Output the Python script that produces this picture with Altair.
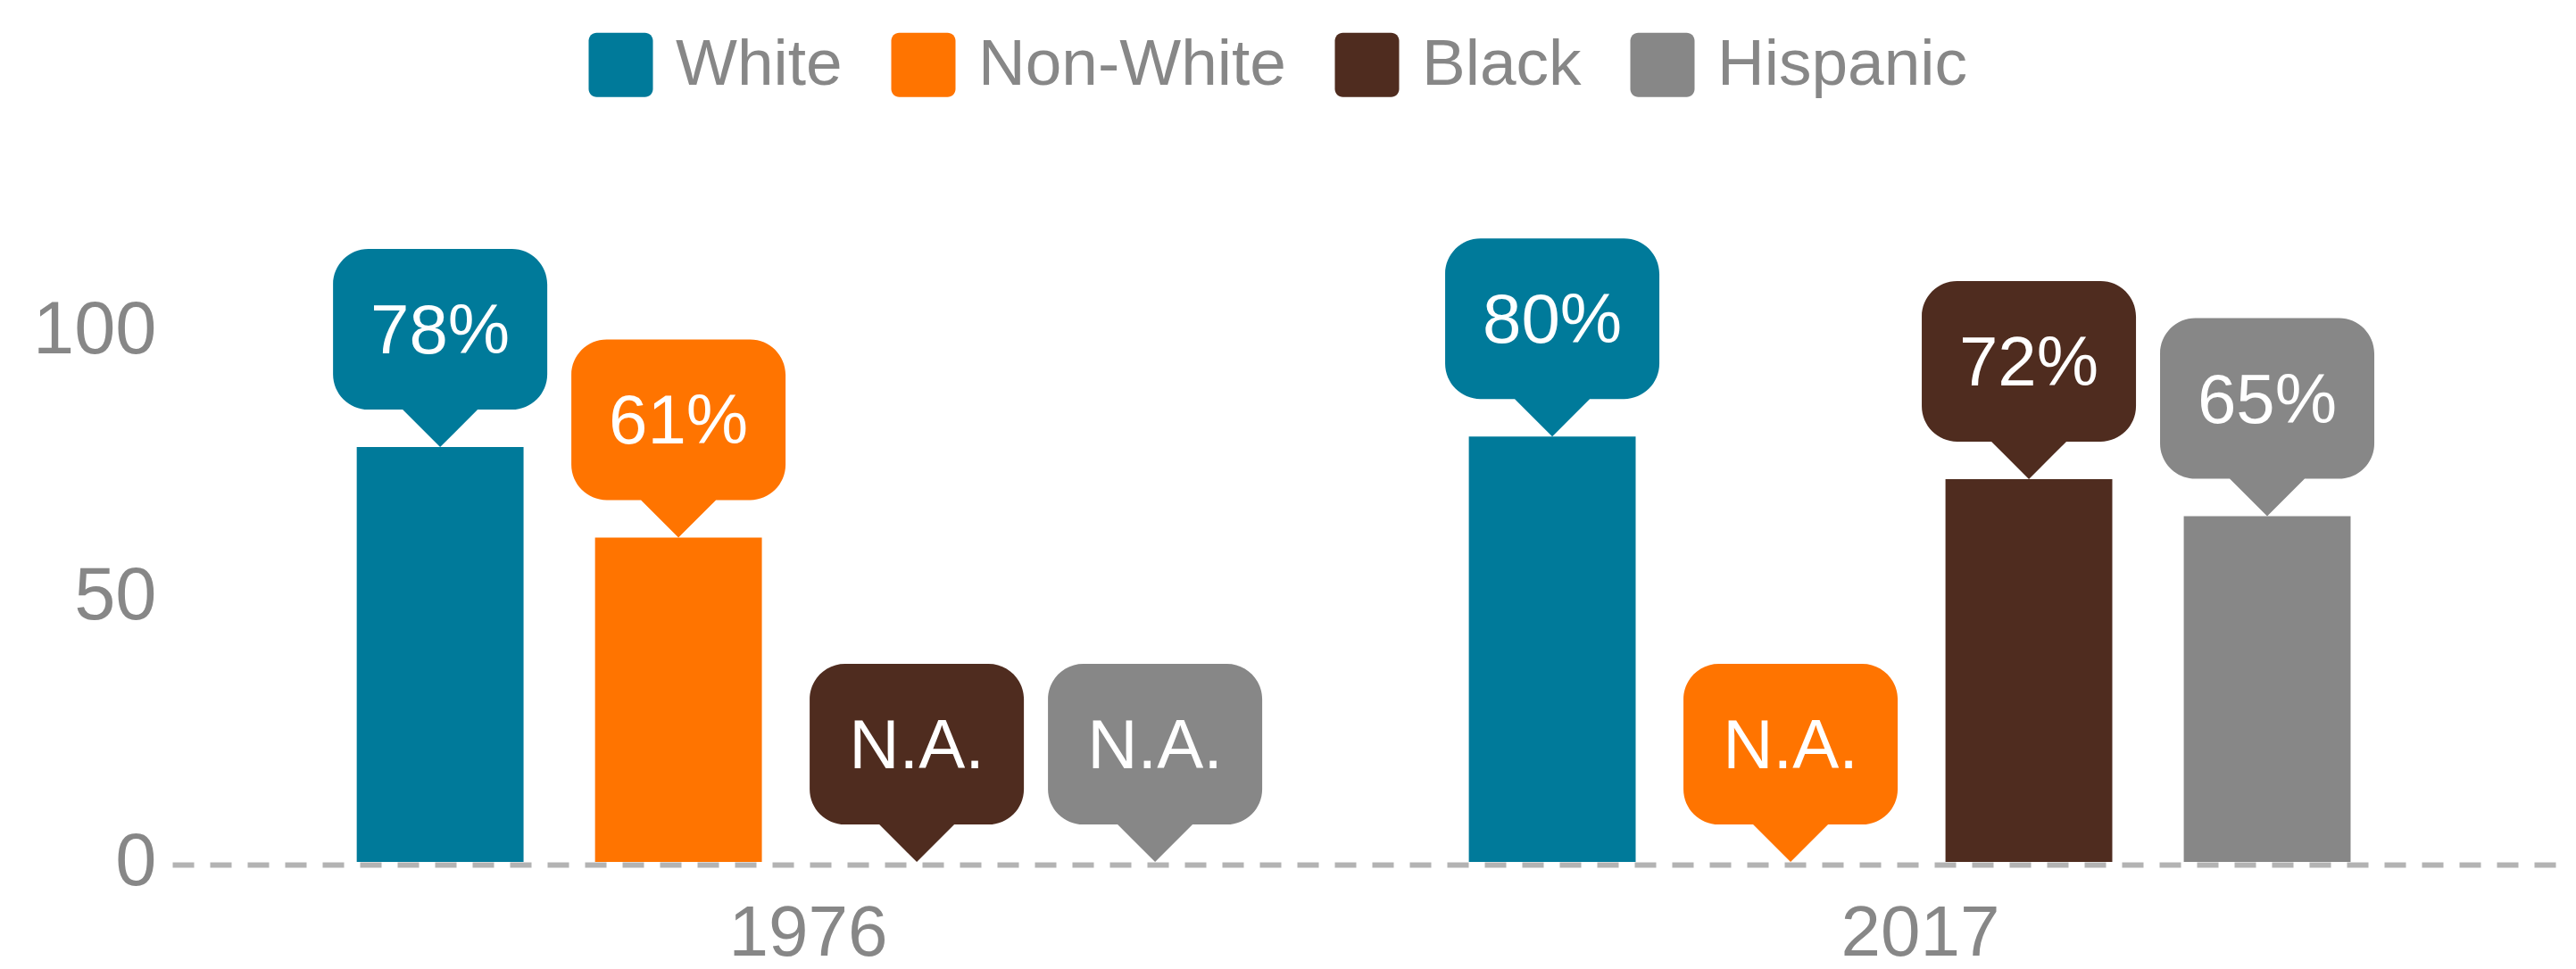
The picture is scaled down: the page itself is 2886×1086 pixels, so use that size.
import altair as alt
import pandas as pd

# ---- data ----
years = ["1976", "2017"]
races = ["White", "Non-White", "Black", "Hispanic"]
values_1976 = [78, 61, None, None]
values_2017 = [80, None, 72, 65]
colors = ["#007A9A", "#FF7400", "#4F2C1F", "#878787"]
y_ticks = [0, 50, 100]

rows = []
for yr, vals in zip(years, [values_1976, values_2017]):
    for r, v in zip(races, vals):
        rows.append({
            "year": yr,
            "race": r,
            "value": v,
            "pos": v if v is not None else 0,
            "label": f"{v}%" if v is not None else "N.A.",
        })
df = pd.DataFrame(rows)

FONT = "Liberation Sans"
GRAY = "#878787"
W, H = 2685, 596

callout = ("M0,0 L-0.35,-0.35 L-0.67,-0.35 C-0.852,-0.35 -1,-0.498 -1,-0.68 "
           "L-1,-1.52 C-1,-1.702 -0.852,-1.85 -0.67,-1.85 L0.67,-1.85 "
           "C0.852,-1.85 1,-1.702 1,-1.52 L1,-0.68 C1,-0.498 0.852,-0.35 0.67,-0.35 "
           "L0.35,-0.35 Z")
rsquare = ("M-1,-0.75 C-1,-0.89 -0.89,-1 -0.75,-1 L0.75,-1 C0.89,-1 1,-0.89 1,-0.75 "
           "L1,0.75 C1,0.89 0.89,1 0.75,1 L-0.75,1 C-0.89,1 -1,0.89 -1,0.75 Z")

x_enc = alt.X("year:N", sort=years, title=None,
              scale=alt.Scale(paddingInner=0, paddingOuter=0.0775, align=0.402),
              axis=alt.Axis(labelFontSize=80, labelColor=GRAY, labelFont=FONT,
                            labelAngle=0, ticks=False, labelPadding=38,
                            labelOffset=12, offset=3, labelLimit=600,
                            domainColor="#B3B3B3", domainWidth=6,
                            domainDash=[24, 18], zindex=1))
xo_enc = alt.XOffset("race:N", sort=races,
                     scale=alt.Scale(paddingInner=0.3, paddingOuter=0.4833))
color_scale = alt.Scale(domain=races, range=colors)

base = alt.Chart(df)

bars = base.transform_filter("datum.value != null").mark_bar().encode(
    x=x_enc,
    xOffset=xo_enc,
    y=alt.Y("value:Q", title=None,
            scale=alt.Scale(domain=[0, 100], nice=False),
            axis=alt.Axis(values=y_ticks, labelFontSize=83, labelColor=GRAY,
                          labelFont=FONT, ticks=False, domain=False, grid=False,
                          labelPadding=18, labelLimit=600)),
    color=alt.Color("race:N", scale=color_scale, sort=races,
                    legend=alt.Legend(title=None, orient="none", direction="horizontal",
                                      columns=4, legendX=466, legendY=-334,
                                      symbolType=rsquare, symbolSize=5184,
                                      symbolStrokeWidth=0, symbolOpacity=1,
                                      labelFontSize=73, labelColor=GRAY,
                                      labelFont=FONT, labelOffset=25,
                                      columnPadding=54, padding=0,
                                      labelLimit=600)),
)

bubbles = base.mark_point(shape=callout, size=57600, filled=True, opacity=1,
                          strokeWidth=0).encode(
    x=alt.X("year:N", sort=years),
    xOffset=alt.XOffset("race:N", sort=races),
    y=alt.Y("pos:Q"),
    color=alt.Color("race:N", scale=color_scale, legend=None),
)

texts = base.mark_text(color="white", fontSize=78, font=FONT, dy=-128,
                       baseline="middle", align="center").encode(
    x=alt.X("year:N", sort=years),
    xOffset=alt.XOffset("race:N", sort=races),
    y=alt.Y("pos:Q"),
    text="label:N",
)

chart = alt.layer(bars, bubbles, texts).properties(
    width=W, height=H,
    autosize="none",
    padding={"left": 185, "top": 362, "right": 0, "bottom": 120},
).configure_view(stroke=None)

chart.save("out.html", embed_options={"renderer": "svg", "actions": False})
